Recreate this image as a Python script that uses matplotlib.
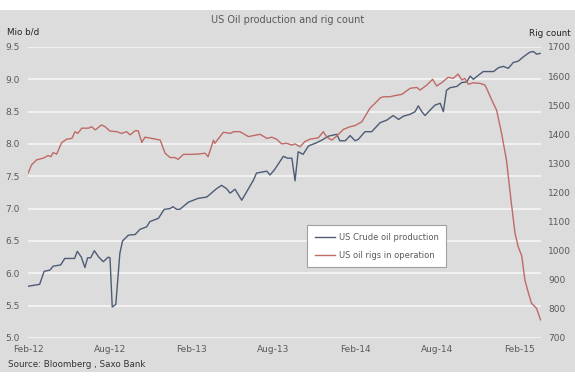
import pandas as pd
import matplotlib
matplotlib.use("Agg")
import matplotlib.pyplot as plt
from matplotlib.patches import Rectangle

# US crude oil production, Mio b/d (left axis)
prod_dates = [
    "2012-02-01", "2012-02-27", "2012-03-08", "2012-03-21", "2012-03-28", "2012-04-14",
    "2012-04-23", "2012-05-15", "2012-05-21", "2012-05-30", "2012-06-07", "2012-06-13",
    "2012-06-20", "2012-06-28", "2012-07-08", "2012-07-18", "2012-07-29", "2012-08-02",
    "2012-08-07", "2012-08-15", "2012-08-24", "2012-08-30", "2012-09-12", "2012-09-27",
    "2012-10-08", "2012-10-23", "2012-10-30", "2012-11-18", "2012-12-01", "2012-12-14",
    "2012-12-20", "2012-12-29", "2013-01-05", "2013-01-24", "2013-02-15", "2013-03-06",
    "2013-03-28", "2013-04-08", "2013-04-19", "2013-04-27", "2013-05-08", "2013-05-23",
    "2013-06-03", "2013-06-18", "2013-06-25", "2013-07-18", "2013-07-25", "2013-08-05",
    "2013-08-24", "2013-09-02", "2013-09-12", "2013-09-19", "2013-09-26", "2013-10-07",
    "2013-10-19", "2013-11-03", "2013-11-18", "2013-12-02", "2013-12-21", "2013-12-28",
    "2014-01-09", "2014-01-20", "2014-01-31", "2014-02-07", "2014-02-22", "2014-03-09",
    "2014-03-28", "2014-04-12", "2014-04-26", "2014-05-08", "2014-05-19", "2014-06-03",
    "2014-06-14", "2014-06-21", "2014-06-29", "2014-07-06", "2014-07-17", "2014-07-28",
    "2014-08-09", "2014-08-16", "2014-08-23", "2014-08-31", "2014-09-15", "2014-09-26",
    "2014-10-07", "2014-10-15", "2014-10-22", "2014-10-29", "2014-11-13", "2014-12-06",
    "2014-12-17", "2014-12-28", "2015-01-08", "2015-01-19", "2015-01-30", "2015-02-11",
    "2015-02-25", "2015-03-05", "2015-03-12", "2015-03-20",
]
prod_values = [
    5.80, 5.83, 6.03, 6.05, 6.11, 6.13,
    6.23, 6.23, 6.34, 6.25, 6.09, 6.24,
    6.24, 6.35, 6.25, 6.18, 6.25, 6.24,
    5.48, 5.52, 6.31, 6.50, 6.59, 6.60,
    6.68, 6.72, 6.80, 6.85, 6.99, 7.00,
    7.03, 6.99, 6.99, 7.10, 7.16, 7.18,
    7.31, 7.36, 7.31, 7.24, 7.30, 7.13,
    7.26, 7.44, 7.55, 7.58, 7.52, 7.61,
    7.81, 7.78, 7.78, 7.43, 7.88, 7.84,
    7.97, 8.01, 8.06, 8.12, 8.15, 8.05,
    8.05, 8.13, 8.05, 8.07, 8.19, 8.19,
    8.33, 8.37, 8.44, 8.38, 8.43, 8.46,
    8.50, 8.59, 8.50, 8.44, 8.52, 8.60,
    8.63, 8.50, 8.83, 8.87, 8.89, 8.95,
    8.96, 9.05, 9.00, 9.04, 9.12, 9.12,
    9.18, 9.20, 9.17, 9.26, 9.28, 9.35,
    9.42, 9.43, 9.39, 9.40,
]

# US oil rigs in operation (right axis)
rig_dates = [
    "2012-02-01", "2012-02-09", "2012-02-20", "2012-03-06", "2012-03-17", "2012-03-23",
    "2012-03-28", "2012-04-05", "2012-04-16", "2012-04-27", "2012-05-09", "2012-05-16",
    "2012-05-22", "2012-05-31", "2012-06-15", "2012-06-22", "2012-06-30", "2012-07-14",
    "2012-07-22", "2012-08-02", "2012-08-17", "2012-08-28", "2012-09-08", "2012-09-16",
    "2012-09-27", "2012-10-04", "2012-10-12", "2012-10-19", "2012-11-03", "2012-11-22",
    "2012-12-03", "2012-12-14", "2012-12-25", "2013-01-01", "2013-01-13", "2013-01-28",
    "2013-02-15", "2013-03-02", "2013-03-09", "2013-03-21", "2013-03-24", "2013-04-12",
    "2013-04-27", "2013-05-05", "2013-05-19", "2013-06-07", "2013-07-03", "2013-07-18",
    "2013-07-29", "2013-08-09", "2013-08-20", "2013-08-31", "2013-09-12", "2013-09-19",
    "2013-09-30", "2013-10-11", "2013-10-22", "2013-11-10", "2013-11-21", "2013-11-29",
    "2013-12-10", "2013-12-21", "2014-01-05", "2014-01-20", "2014-01-31", "2014-02-15",
    "2014-03-05", "2014-03-20", "2014-03-28", "2014-04-04", "2014-04-19", "2014-04-30",
    "2014-05-15", "2014-06-03", "2014-06-18", "2014-06-25", "2014-07-10", "2014-07-23",
    "2014-08-01", "2014-08-12", "2014-08-27", "2014-09-07", "2014-09-18", "2014-09-26",
    "2014-10-03", "2014-10-11", "2014-10-22", "2014-11-06", "2014-11-17", "2014-11-24",
    "2014-12-02", "2014-12-13", "2014-12-24", "2015-01-04", "2015-01-14", "2015-01-23",
    "2015-01-30", "2015-02-07", "2015-02-14", "2015-02-22", "2015-03-01", "2015-03-12",
    "2015-03-21",
]
rig_values = [
    1266, 1295, 1312, 1318, 1327, 1323,
    1337, 1332, 1371, 1383, 1386, 1409,
    1403, 1421, 1421, 1426, 1415, 1432,
    1426, 1411, 1409, 1403, 1409, 1398,
    1412, 1412, 1372, 1390, 1386, 1380,
    1335, 1320, 1320, 1314, 1331, 1331,
    1332, 1335, 1323, 1380, 1369, 1407,
    1403, 1409, 1409, 1392, 1400, 1386,
    1390, 1383, 1367, 1369, 1363, 1367,
    1357, 1375, 1383, 1388, 1409, 1390,
    1380, 1394, 1417, 1426, 1430, 1443,
    1489, 1512, 1525, 1529, 1529, 1533,
    1537, 1558, 1561, 1552, 1569, 1589,
    1566, 1577, 1596, 1592, 1607, 1587,
    1592, 1572, 1577, 1575, 1569, 1546,
    1518, 1482, 1403, 1310, 1174, 1060,
    1014, 982, 899, 854, 819, 802,
    762,
]

tick_dates = ["2012-02-01", "2012-08-01", "2013-02-01", "2013-08-01",
              "2014-02-01", "2014-08-01", "2015-02-01"]
tick_labels = ["Feb-12", "Aug-12", "Feb-13", "Aug-13", "Feb-14", "Aug-14", "Feb-15"]
left_ticks = [5.0, 5.5, 6.0, 6.5, 7.0, 7.5, 8.0, 8.5, 9.0, 9.5]
right_ticks = [700, 800, 900, 1000, 1100, 1200, 1300, 1400, 1500, 1600, 1700]

bg = "#dcdcdc"
txt = "#5a5a5a"
blue = "#4d5b75"
red = "#bf6a66"

fig = plt.figure(figsize=(5.75, 3.82), dpi=100)
fig.patch.set_facecolor("white")
fig.patches.append(Rectangle((0, 0.026), 1, 0.948, transform=fig.transFigure,
                             facecolor=bg, edgecolor="none", zorder=-10))

ax = fig.add_axes([0.0487, 0.1152, 0.8922, 0.7618])
ax.set_facecolor("none")
ax2 = ax.twinx()

d_prod = pd.to_datetime(prod_dates)
d_rig = pd.to_datetime(rig_dates)
l1, = ax.plot(d_prod, prod_values, color=blue, lw=1.0, zorder=3,
              label="US Crude oil production")
l2, = ax2.plot(d_rig, rig_values, color=red, lw=1.0, zorder=2,
               label="US oil rigs in operation")

ax.set_ylim(5.0, 9.5)
ax2.set_ylim(700, 1700)
ax.set_xlim(pd.Timestamp("2012-02-01"), pd.Timestamp("2015-03-22"))
ax.set_yticks(left_ticks)
ax.set_yticklabels([f"{v:.1f}" for v in left_ticks])
ax2.set_yticks(right_ticks)
ax.set_xticks(pd.to_datetime(tick_dates))
ax.set_xticklabels(tick_labels)

ax.grid(axis="y", color="#f4f4f4", lw=1.3)
ax.grid(axis="x", visible=False)
ax.set_axisbelow(True)

for a in (ax, ax2):
    for s in a.spines.values():
        s.set_visible(False)
    a.tick_params(length=0, labelsize=6.5, colors=txt)
ax.tick_params(axis="y", pad=6)
ax.tick_params(axis="x", pad=5)
ax2.tick_params(axis="y", pad=5)

leg = ax.legend(handles=[l1, l2], loc="upper left", bbox_to_anchor=(0.544, 0.388),
                fontsize=6, frameon=True, fancybox=False, framealpha=1,
                edgecolor="#a0a0a0", facecolor="white", handlelength=2.4,
                handletextpad=0.5, labelspacing=1.1, borderpad=0.9, borderaxespad=0)
for t in leg.get_texts():
    t.set_color(txt)
leg.get_frame().set_linewidth(0.8)
leg.set_zorder(5)

fig.text(0.50, 0.947, "US Oil production and rig count", ha="center", va="center",
         fontsize=7, color=txt)
fig.text(0.012, 0.916, "Mio b/d", ha="left", va="center", fontsize=6.3, color="#222222")
fig.text(0.992, 0.913, "Rig count", ha="right", va="center", fontsize=6.3, color="#222222")
fig.text(0.014, 0.047, "Source: Bloomberg , Saxo Bank", ha="left", va="center",
         fontsize=6.3, color="#333333")

fig.savefig("out.png", dpi=100)
